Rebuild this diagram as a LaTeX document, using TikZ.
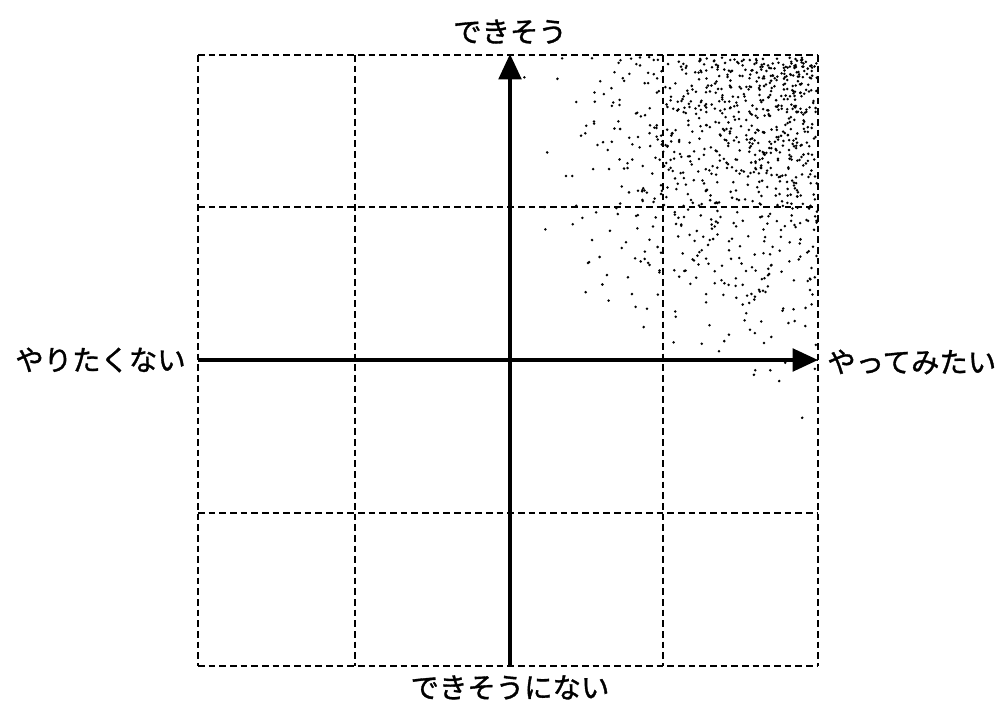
\documentclass[tikz,border=0pt]{standalone}
\usepackage{fontspec}
\newfontfamily\jp[FakeBold=1.2]{Noto Sans CJK JP}
\usetikzlibrary{arrows.meta}
\begin{document}
\begin{tikzpicture}[x=0.75pt,y=-0.75pt,
  gridline/.style={line width=1.4pt, dash pattern=on 5pt off 3pt},
  axis/.style={line width=2.4pt, -{Triangle[length=19pt,width=17pt]}},
  lbl/.style={font=\jp\fontsize{21.3}{25}\selectfont, inner sep=0pt},
  dot/.style={fill=black}]
\useasboundingbox (0,0) rectangle (1002,709);
% stipple shading
\pgfmathsetseed{7}
\foreach \i in {1,...,9000}{
  \pgfmathsetmacro\px{817-rnd*370}
  \pgfmathsetmacro\py{57+rnd*420}
  \pgfmathsetmacro\r{sqrt(((818-\px)/360)^2+((\py-55)/420)^2)}
  \pgfmathsetmacro\p{max(0,1-\r)^2.4}
  \pgfmathsetmacro\w{rnd}
  \ifdim \w pt < \p pt
    \fill[dot] (\px,\py) circle[radius=1.4];
  \fi
}
% grid
\foreach \x in {198,355,510,663,818}{\draw[gridline] (\x,55) -- (\x,666);}
\foreach \y in {55,207,360,513,666}{\draw[gridline] (198,\y) -- (818,\y);}
% axes
\coordinate (L) at (198,360);
\coordinate (R) at (818,360);
\coordinate (B) at (510,666);
\coordinate (T) at (510,54);
\draw[axis] (L) -- (R);
\draw[axis] (B) -- (T);
% labels
\node[lbl, anchor=south] (top) at (510,44) {できそう};
\node[lbl, anchor=north] (bot) at (510,675) {できそうにない};
\node[lbl, anchor=east] (left) at (186,360) {やりたくない};
\node[lbl, anchor=west] (right) at (827,362) {やってみたい};
\end{tikzpicture}
\end{document}
